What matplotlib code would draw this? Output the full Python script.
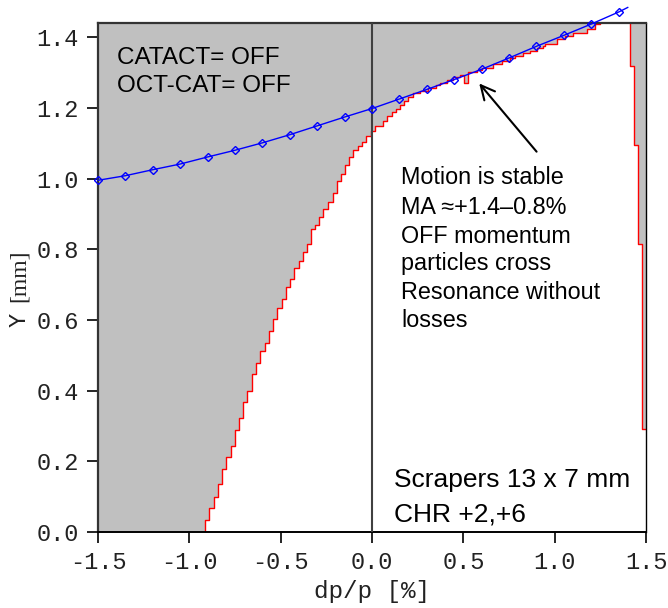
import matplotlib
matplotlib.use("Agg")
import matplotlib.pyplot as plt
import numpy as np

# blue curve (markers every 0.15 in dp)
blue_dp = [-1.5, -1.35, -1.2, -1.05, -0.9, -0.75, -0.6, -0.45, -0.3, -0.15,
           0.0, 0.15, 0.3, 0.45, 0.6, 0.75, 0.9, 1.05, 1.2, 1.35, 1.40]
blue_y = [0.995, 1.008, 1.025, 1.041, 1.061, 1.080, 1.101, 1.124, 1.149, 1.174,
          1.198, 1.225, 1.252, 1.280, 1.309, 1.341, 1.374, 1.405, 1.437, 1.471, 1.484]

# red staircase: dp of each vertical step and the Y it climbs to
edge_dp = [-0.914, -0.891, -0.865, -0.841, -0.820, -0.798, -0.774, -0.752, -0.728, -0.705,
           -0.683, -0.657, -0.635, -0.612, -0.587, -0.564, -0.542, -0.518, -0.494, -0.472,
           -0.449, -0.427, -0.401, -0.379, -0.356, -0.336, -0.310, -0.289, -0.267, -0.239,
           -0.215, -0.193, -0.170, -0.148, -0.124, -0.102, -0.078, -0.055, -0.031, -0.008,
           0.016, 0.062, 0.084, 0.108, 0.130, 0.153, 0.175, 0.199, 0.223, 0.263,
           0.307, 0.350, 0.372, 0.409, 0.445, 0.482, 0.504, 0.526, 0.573, 0.601,
           0.664, 0.710, 0.755, 0.783, 0.828, 0.865, 0.902, 0.938, 0.947, 1.011,
           1.057, 1.102, 1.175, 1.221, 1.248]
edge_y = [0.034, 0.067, 0.100, 0.135, 0.178, 0.211, 0.243, 0.288, 0.322, 0.368,
          0.400, 0.446, 0.478, 0.513, 0.535, 0.568, 0.602, 0.634, 0.658, 0.692,
          0.715, 0.746, 0.768, 0.791, 0.814, 0.856, 0.869, 0.892, 0.913, 0.934,
          0.960, 0.993, 1.014, 1.037, 1.060, 1.080, 1.092, 1.104, 1.120, 1.134,
          1.148, 1.163, 1.176, 1.188, 1.198, 1.208, 1.220, 1.231, 1.241, 1.248,
          1.256, 1.264, 1.271, 1.278, 1.286, 1.292, 1.269, 1.302, 1.307, 1.314,
          1.325, 1.333, 1.340, 1.346, 1.354, 1.361, 1.368, 1.374, 1.382, 1.394,
          1.404, 1.413, 1.424, 1.436, 1.460]

# right-hand lost strip: left edge dp between successive Y levels
strip_y = [0.290, 0.815, 1.096, 1.319, 1.46]
strip_dp = [1.480, 1.456, 1.434, 1.412, 1.412]

xticks = [-1.5, -1.0, -0.5, 0.0, 0.5, 1.0, 1.5]
yticks = [0.0, 0.2, 0.4, 0.6, 0.8, 1.0, 1.2, 1.4]
xmin, xmax, ymin, ymax = -1.5, 1.5, 0.0, 1.44

grey = "#c0c0c0"
mono = "Liberation Mono"
sans = "Liberation Sans"

fig = plt.figure(figsize=(6.68, 6.08), dpi=100)
ax = fig.add_axes([98/668, 76/608, 548/668, 509/608])

# grey area left of / above the staircase
fx = [xmin] + edge_dp
fy = [0.0] + edge_y
ax.fill_between(fx, fy, ymax, step="post", color=grey, lw=0, zorder=1)
ax.fill_betweenx(strip_y, strip_dp, xmax, step="post", color=grey, lw=0, zorder=1)

# red step lines
sx = np.repeat(edge_dp, 2)
sy = np.concatenate([[0.0], np.repeat(edge_y, 2)[:-1]])
ax.plot(sx, sy, color="red", lw=1.0, zorder=2)
rx = np.concatenate([[xmax], np.repeat(strip_dp[:-1], 2)])
ry = np.repeat(strip_y, 2)[:-1]
ax.plot(rx, ry, color="red", lw=1.0, zorder=2)

ax.axvline(0.0, color="#404040", lw=1.5, zorder=3)

ax.plot(blue_dp, blue_y, color="blue", lw=1.0, marker="D", ms=4.5, mfc="none",
        mec="blue", mew=1.0, markevery=list(range(len(blue_dp) - 1)),
        clip_on=False, zorder=4)

ax.set_xlim(xmin, xmax)
ax.set_ylim(ymin, ymax)
ax.set_xticks(xticks)
ax.set_yticks(yticks)
ax.set_xticklabels(["%.1f" % v for v in xticks])
ax.set_yticklabels(["%.1f" % v for v in yticks])
ax.tick_params(direction="out", length=8, width=1.2, labelsize=17, pad=6,
               colors="black")
for lab in ax.get_xticklabels() + ax.get_yticklabels():
    lab.set_fontfamily(mono)
    lab.set_color("#222222")
for s in ["left", "top"]:
    ax.spines[s].set_linewidth(1.6)
    ax.spines[s].set_color("#333333")
ax.spines["bottom"].set_linewidth(1.4)
ax.spines["right"].set_linewidth(1.0)

ax.set_xlabel("dp/p [%]", fontfamily=mono, fontsize=17.5, color="#222222", labelpad=4)
fig.text(19/668, 1 - 320/608, "Y", rotation=90, ha="center", va="center",
         fontfamily=mono, fontsize=17, color="#222222")
fig.text(19/668, 1 - 276/608, "[mm]", rotation=90, ha="center", va="center",
         fontfamily="Liberation Serif", fontsize=17, color="#222222")

for txt, yb in zip(["CATACT= OFF", "OCT-CAT= OFF"], [1.325, 1.244]):
    ax.text(-1.397, yb, txt, fontfamily=sans, fontsize=17.5, va="baseline", zorder=5)

motion = ["Motion is stable", "MA \u2248+1.4\u20130.8%", "OFF momentum",
          "particles cross", "Resonance without", "losses"]
motion_y = [0.984, 0.901, 0.818, 0.741, 0.658, 0.579]
for txt, yb in zip(motion, motion_y):
    ax.text(0.160, yb, txt, fontfamily=sans, fontsize=16.8, va="baseline", zorder=5)

for txt, yb in zip(["Scrapers 13 x 7 mm", "CHR +2,+6"], [0.128, 0.029]):
    ax.text(0.122, yb, txt, fontfamily=sans, fontsize=19, va="baseline", zorder=5)

ax.annotate("", xy=(0.587, 1.269), xytext=(0.901, 1.076),
            arrowprops=dict(arrowstyle="->", color="black", lw=1.5,
                            mutation_scale=25, shrinkA=0, shrinkB=0), zorder=5)

fig.savefig("out.png", dpi=100)
